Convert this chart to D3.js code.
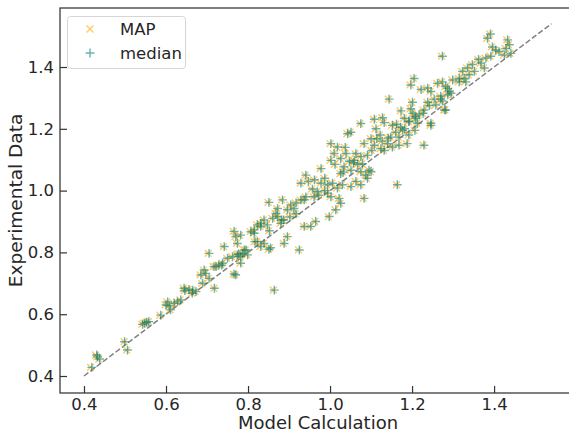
<!DOCTYPE html>
<html>
<head>
<meta charset="utf-8">
<script src="https://cdn.jsdelivr.net/npm/d3@7"></script>
<style>
  body { margin: 0; background: #fff; }
  svg { display: block; font-family: "DejaVu Sans", sans-serif; }
</style>
</head>
<body>
<div id="chart"></div>
<script>
// experimental value, MAP model value, median model value (same order)
const experimental = [
  0.428, 0.462, 0.455, 0.468, 0.511, 0.484, 0.567, 0.571, 0.576, 0.574,
  0.597, 0.630, 0.627, 0.614, 0.635, 0.640, 0.646, 0.640, 0.684, 0.676,
  0.680, 0.668, 0.673, 0.678, 0.727, 0.732, 0.700, 0.716, 0.743, 0.684,
  0.754, 0.754, 0.759, 0.759, 0.765, 0.730, 0.727, 0.781, 0.786, 0.792,
  0.787, 0.797, 0.808, 0.792, 0.808, 0.765, 0.797, 0.819, 0.868, 0.856,
  0.851, 0.829, 0.867, 0.862, 0.835, 0.819, 0.829, 0.810, 0.815, 0.678,
  0.889, 0.894, 0.905, 0.889, 0.910, 0.926, 0.942, 0.962, 0.873, 0.884,
  0.916, 0.894, 0.829, 0.851, 0.808, 0.970, 0.938, 0.954, 0.942, 0.970,
  0.980, 0.970, 0.884, 0.884, 0.900, 0.916, 0.938, 0.959, 0.975, 0.980,
  0.992, 0.997, 0.980, 1.024, 1.050, 1.030, 1.024, 1.019, 1.024, 1.071,
  1.008, 1.019, 1.013, 1.030, 1.019, 1.040, 0.975, 1.098, 1.120, 1.104,
  1.120, 1.077, 1.066, 1.055, 1.152, 1.141, 1.184, 1.189, 1.217, 1.087,
  1.114, 1.066, 1.120, 1.110, 1.152, 1.168, 1.147, 1.168, 1.136, 1.130,
  1.061, 1.050, 1.061, 1.019, 1.098, 1.231, 1.236, 1.220, 1.296, 1.211,
  1.189, 1.173, 1.173, 1.152, 1.141, 1.147, 1.152, 1.258, 1.234, 1.223,
  1.234, 1.218, 1.286, 1.265, 1.363, 1.342, 1.327, 1.332, 1.321, 1.286,
  1.261, 1.218, 1.147, 1.296, 1.296, 1.261, 1.347, 1.352, 1.337, 1.321,
  1.315, 1.363, 1.435, 1.358, 1.331, 1.306, 1.310, 1.277, 1.290, 1.261,
  1.211, 1.363, 1.352, 1.386, 1.397, 1.408, 1.413, 1.397, 1.429, 1.435,
  1.465, 1.455, 1.507, 1.493, 1.488, 1.472, 1.460, 1.444, 1.439, 1.450,
  1.386, 1.375, 1.352, 1.200, 1.250, 1.245, 1.180, 1.215, 1.180, 1.200,
  1.195, 1.195, 0.915, 0.925, 0.905, 1.095, 1.085, 1.140, 1.085, 1.005,
  1.040, 1.035, 0.985, 1.000, 0.960, 1.060, 1.170, 1.250, 1.275, 1.240,
  0.870, 0.905, 0.835, 0.795, 1.090, 1.130, 1.160, 1.205, 1.225, 1.425
];
const mapCalc = [
  0.416, 0.431, 0.436, 0.428, 0.498, 0.504, 0.541, 0.545, 0.557, 0.551,
  0.585, 0.598, 0.606, 0.610, 0.618, 0.626, 0.634, 0.602, 0.642, 0.644,
  0.654, 0.663, 0.671, 0.663, 0.683, 0.695, 0.687, 0.703, 0.691, 0.717,
  0.715, 0.720, 0.727, 0.734, 0.736, 0.764, 0.768, 0.748, 0.760, 0.772,
  0.780, 0.785, 0.793, 0.797, 0.789, 0.780, 0.703, 0.740, 0.764, 0.780,
  0.768, 0.772, 0.805, 0.813, 0.821, 0.829, 0.837, 0.849, 0.853, 0.862,
  0.821, 0.829, 0.837, 0.845, 0.858, 0.866, 0.870, 0.849, 0.813, 0.829,
  0.870, 0.878, 0.886, 0.894, 0.923, 0.882, 0.894, 0.902, 0.910, 0.927,
  0.939, 0.935, 0.935, 0.951, 0.963, 0.996, 1.012, 1.024, 1.020, 1.000,
  0.992, 0.967, 0.959, 0.927, 0.939, 0.945, 0.976, 0.992, 1.004, 0.976,
  1.016, 1.028, 1.049, 1.061, 1.073, 1.089, 1.081, 1.000, 1.008, 1.024,
  1.037, 1.032, 1.049, 1.024, 1.000, 1.016, 1.041, 1.049, 1.073, 1.077,
  1.089, 1.093, 1.061, 1.073, 1.081, 1.098, 1.106, 1.112, 1.122, 1.130,
  1.073, 1.085, 1.098, 1.162, 1.057, 1.106, 1.126, 1.130, 1.142, 1.150,
  1.158, 1.166, 1.146, 1.138, 1.150, 1.166, 1.186, 1.171, 1.179, 1.191,
  1.207, 1.211, 1.199, 1.195, 1.203, 1.195, 1.220, 1.236, 1.244, 1.236,
  1.227, 1.244, 1.227, 1.252, 1.268, 1.277, 1.260, 1.272, 1.280, 1.289,
  1.293, 1.313, 1.272, 1.297, 1.285, 1.268, 1.285, 1.256, 1.272, 1.280,
  1.244, 1.325, 1.313, 1.321, 1.333, 1.345, 1.366, 1.374, 1.378, 1.390,
  1.394, 1.402, 1.389, 1.382, 1.431, 1.435, 1.427, 1.439, 1.423, 1.410,
  1.350, 1.337, 1.329, 1.180, 1.200, 1.215, 1.190, 1.160, 1.120, 1.110,
  1.175, 1.205, 0.900, 0.915, 0.885, 1.045, 1.065, 1.035, 1.010, 0.955,
  0.985, 0.960, 0.970, 0.985, 0.915, 1.030, 1.140, 1.225, 1.240, 1.205,
  0.850, 0.880, 0.815, 0.775, 1.055, 1.100, 1.125, 1.170, 1.190, 1.360
];
const medianCalc = [
  0.419, 0.433, 0.438, 0.431, 0.499, 0.506, 0.543, 0.548, 0.558, 0.553,
  0.587, 0.600, 0.608, 0.611, 0.620, 0.628, 0.636, 0.604, 0.644, 0.646,
  0.656, 0.664, 0.673, 0.665, 0.685, 0.697, 0.689, 0.705, 0.693, 0.718,
  0.717, 0.722, 0.729, 0.736, 0.738, 0.766, 0.770, 0.750, 0.762, 0.774,
  0.782, 0.787, 0.795, 0.799, 0.791, 0.782, 0.705, 0.742, 0.766, 0.782,
  0.770, 0.774, 0.807, 0.815, 0.823, 0.831, 0.839, 0.851, 0.855, 0.864,
  0.823, 0.831, 0.839, 0.847, 0.860, 0.868, 0.872, 0.851, 0.815, 0.831,
  0.872, 0.880, 0.888, 0.896, 0.925, 0.884, 0.896, 0.904, 0.912, 0.929,
  0.941, 0.937, 0.937, 0.953, 0.965, 0.998, 1.014, 1.026, 1.022, 1.002,
  0.994, 0.969, 0.961, 0.929, 0.941, 0.947, 0.978, 0.994, 1.006, 0.978,
  1.018, 1.030, 1.051, 1.063, 1.075, 1.091, 1.083, 1.002, 1.010, 1.026,
  1.039, 1.034, 1.051, 1.026, 1.002, 1.018, 1.043, 1.051, 1.075, 1.079,
  1.091, 1.095, 1.063, 1.075, 1.083, 1.100, 1.108, 1.114, 1.124, 1.132,
  1.075, 1.087, 1.100, 1.164, 1.059, 1.108, 1.128, 1.132, 1.144, 1.152,
  1.160, 1.168, 1.148, 1.140, 1.152, 1.168, 1.188, 1.173, 1.181, 1.193,
  1.209, 1.213, 1.201, 1.197, 1.205, 1.197, 1.222, 1.238, 1.246, 1.238,
  1.229, 1.246, 1.229, 1.254, 1.270, 1.279, 1.262, 1.274, 1.282, 1.291,
  1.295, 1.315, 1.274, 1.299, 1.287, 1.270, 1.287, 1.258, 1.274, 1.282,
  1.246, 1.327, 1.315, 1.323, 1.335, 1.347, 1.368, 1.376, 1.380, 1.392,
  1.396, 1.404, 1.391, 1.384, 1.433, 1.437, 1.429, 1.441, 1.425, 1.412,
  1.352, 1.339, 1.331, 1.182, 1.202, 1.217, 1.192, 1.162, 1.122, 1.112,
  1.177, 1.207, 0.902, 0.917, 0.887, 1.047, 1.067, 1.037, 1.012, 0.957,
  0.987, 0.962, 0.972, 0.987, 0.917, 1.032, 1.142, 1.227, 1.242, 1.207,
  0.852, 0.882, 0.817, 0.777, 1.057, 1.102, 1.127, 1.172, 1.192, 1.362
];
const xTicks = [0.4, 0.6, 0.8, 1.0, 1.2, 1.4];
const yTicks = [0.4, 0.6, 0.8, 1.0, 1.2, 1.4];
const identityLine = [0.4, 1.54];
const seriesNames = ["MAP", "median"];

const width = 569, height = 433;
const xLim = [0.3415, 1.590], yLim = [0.345, 1.591];
const plotLeft = 60, plotRight = 572, plotTop = 8, plotBottom = 393;

const orange = "#ffa500", teal = "#008080";

const svg = d3.select("#chart").append("svg")
    .attr("width", width)
    .attr("height", height);

const x = d3.scaleLinear().domain(xLim).range([plotLeft, plotRight]);
const y = d3.scaleLinear().domain(yLim).range([plotBottom, plotTop]);

const mapPoints = experimental.map((e, i) => ({x: mapCalc[i], y: e}));
const medianPoints = experimental.map((e, i) => ({x: medianCalc[i], y: e}));

// marker paths
function crossX(s) { return `M${-s},${-s}L${s},${s}M${-s},${s}L${s},${-s}`; }
function plus(s) { return `M${-s},0L${s},0M0,${-s}L0,${s}`; }

// y = x reference line
svg.append("line")
    .attr("x1", x(identityLine[0])).attr("y1", y(identityLine[0]))
    .attr("x2", x(identityLine[1])).attr("y2", y(identityLine[1]))
    .attr("stroke", "#808080")
    .attr("stroke-width", 1.5)
    .attr("stroke-dasharray", "5.5,2.4");

svg.append("g").selectAll("path")
    .data(mapPoints)
    .enter().append("path")
    .attr("transform", d => `translate(${x(d.x)},${y(d.y)})`)
    .attr("d", crossX(3.4))
    .attr("stroke", orange)
    .attr("stroke-opacity", 0.6)
    .attr("stroke-width", 1.4)
    .attr("fill", "none");

svg.append("g").selectAll("path")
    .data(medianPoints)
    .enter().append("path")
    .attr("transform", d => `translate(${x(d.x)},${y(d.y)})`)
    .attr("d", plus(4.4))
    .attr("stroke", teal)
    .attr("stroke-opacity", 0.6)
    .attr("stroke-width", 1.4)
    .attr("fill", "none");

// axes
const xAxis = svg.append("g")
    .attr("transform", `translate(0,${plotBottom})`)
    .call(d3.axisBottom(x).tickValues(xTicks).tickFormat(d3.format(".1f"))
        .tickSizeInner(-7).tickSizeOuter(0).tickPadding(5));
const yAxis = svg.append("g")
    .attr("transform", `translate(${plotLeft},0)`)
    .call(d3.axisLeft(y).tickValues(yTicks).tickFormat(d3.format(".1f"))
        .tickSizeInner(-7).tickSizeOuter(0).tickPadding(6));

[xAxis, yAxis].forEach(g => {
    g.select(".domain").remove();
    g.selectAll(".tick line").attr("stroke", "#333").attr("stroke-width", 1.2);
    g.selectAll(".tick text").attr("fill", "#262626")
        .style("font-size", "16.5px").style("font-family", "DejaVu Sans");
});

// frame
svg.append("rect")
    .attr("x", plotLeft).attr("y", plotTop)
    .attr("width", plotRight - plotLeft).attr("height", plotBottom - plotTop)
    .attr("fill", "none")
    .attr("stroke", "#333")
    .attr("stroke-width", 1.25);

svg.append("text")
    .attr("x", (plotLeft + plotRight) / 2 + 2)
    .attr("y", 429)
    .attr("text-anchor", "middle")
    .attr("fill", "#262626")
    .style("font-size", "18px")
    .text("Model Calculation");

svg.append("text")
    .attr("transform", `translate(22,${(plotTop + plotBottom) / 2}) rotate(-90)`)
    .attr("text-anchor", "middle")
    .attr("fill", "#262626")
    .style("font-size", "18.5px")
    .text("Experimental Data");

// legend
const legend = svg.append("g");
legend.append("rect")
    .attr("x", 67.5).attr("y", 16.5)
    .attr("width", 118).attr("height", 52)
    .attr("rx", 3)
    .attr("fill", "#fff")
    .attr("fill-opacity", 0.8)
    .attr("stroke", "#d6d6d6");
seriesNames.forEach((name, i) => {
    const cy = 29 + i * 24;
    legend.append("path")
        .attr("transform", `translate(90,${cy})`)
        .attr("d", i === 0 ? crossX(3.4) : plus(4.4))
        .attr("stroke", i === 0 ? orange : teal)
        .attr("stroke-opacity", 0.6)
        .attr("stroke-width", 1.4)
        .attr("fill", "none");
    legend.append("text")
        .attr("x", 120).attr("y", cy + 6)
        .attr("fill", "#262626")
        .style("font-size", "16.5px")
        .text(name);
});
</script>
</body>
</html>
